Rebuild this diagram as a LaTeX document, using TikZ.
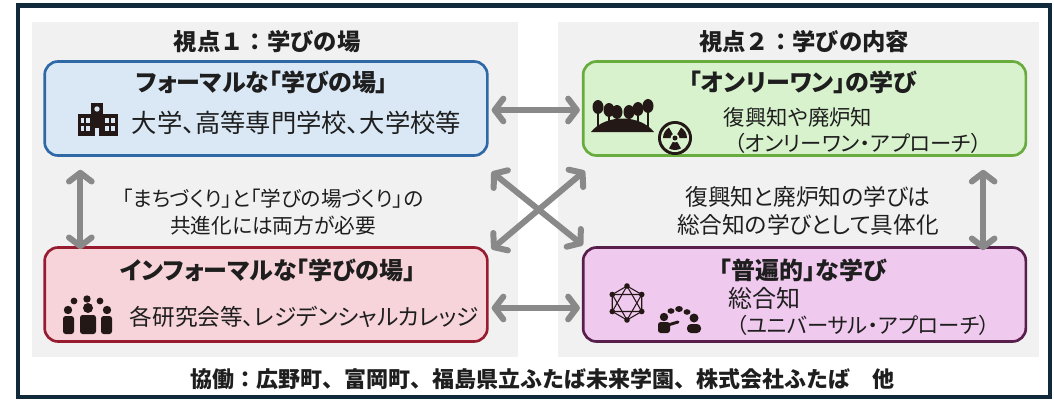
\documentclass[tikz,border=0pt]{standalone}
\usepackage{fontspec}
\setmainfont[RawFeature=+palt]{Noto Sans CJK JP}
\usepackage{tikz}
\usetikzlibrary{arrows.meta,positioning}

\definecolor{framecol}{RGB}{16,42,60}
\definecolor{panelcol}{RGB}{241,241,241}
\definecolor{textcol}{RGB}{30,30,30}
\definecolor{iconcol}{RGB}{35,24,21}
\definecolor{arrowcol}{RGB}{137,137,137}
\definecolor{formalfill}{RGB}{218,232,246}
\definecolor{formaldraw}{RGB}{46,104,166}
\definecolor{onlyfill}{RGB}{217,242,206}
\definecolor{onlydraw}{RGB}{104,172,62}
\definecolor{infofill}{RGB}{246,212,218}
\definecolor{infodraw}{RGB}{152,28,48}
\definecolor{univfill}{RGB}{240,201,238}
\definecolor{univdraw}{RGB}{88,30,76}

\begin{document}
\begin{tikzpicture}[x=0.75pt,y=-0.75pt]
\tikzstyle{box}=[rectangle,rounded corners=10pt,line width=2pt,minimum width=332pt,minimum height=70.5pt]
\tikzstyle{view}=[text=textcol,font=\bfseries\fontsize{17.5}{20}\selectfont\addfontfeature{RawFeature=-palt}]
\tikzstyle{boxtitle}=[text=textcol,font=\bfseries\fontsize{18}{21}\selectfont]
\tikzstyle{body}=[text=textcol,font=\fontsize{16}{19}\selectfont]
\tikzstyle{note}=[text=textcol,align=center,font=\fontsize{15.5}{20}\selectfont]

\tikzstyle{dbl}=[draw=arrowcol,line width=4.5pt,{Straight Barb[length=6.5pt,width=17pt,round]}-{Straight Barb[length=6.5pt,width=17pt,round]}]

\useasboundingbox (0,0) rectangle (1054,400);
\draw[framecol,line width=3.5pt] (18,5.5) rectangle (1050,397);
\fill[panelcol] (32,22) rectangle (518,357);
\fill[panelcol] (558,22) rectangle (1039,357);

\node[view] (view1) at (267,42) {視点１：学びの場};
\node[view] (view2) at (804,42) {視点２：学びの内容};

% the four boxes
\node[box,fill=formalfill,draw=formaldraw] (formal) at (266,108.5) {};
\node[box,fill=onlyfill,draw=onlydraw] (onlyone) at (804.5,108.5) {};
\node[box,fill=infofill,draw=infodraw] (informal) at (266,294.5) {};
\node[box,fill=univfill,draw=univdraw] (universal) at (804.5,294.5) {};

\node[boxtitle] (formaltitle) at (262,82) {フォーマルな「学びの場」};
\node[body,font=\fontsize{19}{22}\selectfont,anchor=west] (formaltext) at (127,123) {大学、高等専門学校、大学校等};
\node[boxtitle] (onlytitle) at (803,82) {「オンリーワン」の学び};
\node[body] (onlytext) at (798,117) {復興知や廃炉知};
\node[body] (onlysub) at (858,143) {（オンリーワン・アプローチ）};
\node[boxtitle] (infotitle) at (268,270) {インフォーマルな「学びの場」};
\node[body,font=\fontsize{17}{20}\selectfont,anchor=west] (infotext) at (125,317) {各研究会等、レジデンシャルカレッジ};
\node[boxtitle] (univtitle) at (803,270) {「普遍的」な学び};
\node[body,font=\fontsize{18}{21}\selectfont,anchor=west] (univtext) at (724,298) {総合知};
\node[body] (univsub) at (863,325) {（ユニバーサル・アプローチ）};

\node[note] (leftnote) at (273,212) {「まちづくり」と「学びの場づくり」の\\共進化には両方が必要};
\node[note,font=\fontsize{17}{21}\selectfont] (rightnote) at (808,211) {復興知と廃炉知の学びは\\総合知の学びとして具体化};

\node[text=textcol,font=\bfseries\fontsize{16.5}{19}\selectfont\addfontfeature{RawFeature=-palt}] (partners) at (542,379) {協働：広野町、富岡町、福島県立ふたば未来学園、株式会社ふたば　他};

% arrows
\draw[dbl] ([shift={(3,1.5)}]formal.east) -- ([shift={(-2,1.5)}]onlyone.west);
\draw[dbl] ([shift={(3,13.5)}]informal.east) -- ([shift={(-2,13.5)}]universal.west);
\draw[dbl] ([shift={(3,15)}]formal.south east) -- ([shift={(1,-1)}]universal.north west);
\draw[dbl] ([shift={(3,14)}]onlyone.south west) -- ([shift={(3,3)}]informal.north east);
\draw[dbl] ([shift={(37,13)}]formal.south west) -- ([shift={(37,3)}]informal.north west);
\draw[dbl] ([shift={(-44,13)}]onlyone.south east) -- ([shift={(-44,4)}]universal.north east);

% school
\fill[iconcol] (78,114) rectangle (92,136);
\fill[iconcol] (91,103) rectangle (103,136);
\fill[iconcol] (102,114) rectangle (118,136);
\foreach \x in {80.5,86} \foreach \y in {118,126} \fill[formalfill] (\x,\y) rectangle ++(3.5,4.5);
\foreach \x in {105,111} \foreach \y in {118,126} \fill[formalfill] (\x,\y) rectangle ++(3.5,4.5);
\fill[formalfill] (97,109) circle (2.7);
\fill[formalfill] (95,128) rectangle (99,136);

% people
\foreach \x in {74,100} \fill[iconcol] (\x,301) circle (3.4);
\fill[iconcol] (87,299) circle (3.7);
\fill[iconcol] (68,310) circle (4.2);
\fill[iconcol] (88,308) circle (5);
\fill[iconcol] (107,310) circle (4.2);
\fill[iconcol,rounded corners=2pt] (63,316) rectangle (74,334);
\fill[iconcol,rounded corners=2pt] (80,315) rectangle (96,334);
\fill[iconcol,rounded corners=2pt] (101,316) rectangle (112,334);

% trees on a mound
\fill[iconcol] (591,132) .. controls (605,114) and (640,114) .. (654,132) -- cycle;
\foreach \x/\h in {598/107,609/110,617/112,629/112,638/109,648/106}
  {\draw[iconcol,line width=1.5pt] (\x,\h) -- (\x,127);
   \fill[iconcol] (\x,\h) ellipse (5.5 and 7);}

% radiation
\begin{scope}[shift={(675,138)}]
\fill[iconcol] (0,0) circle (17);
\fill[onlyfill] (0,0) circle (14);
\fill[iconcol] (0,0) circle (2.5);
\foreach \a in {90,210,330}
  \fill[iconcol] (\a-30:4.5) arc[start angle=\a-30,end angle=\a+30,radius=4.5]
    -- (\a+30:12) arc[start angle=\a+30,end angle=\a-30,radius=12] -- cycle;
\end{scope}

% network
\begin{scope}[shift={(627,303)}]
\draw[iconcol,line width=0.8pt] (30:17) -- (90:17) -- (150:17) -- (210:17) -- (270:17) -- (330:17) -- cycle;
\draw[iconcol,line width=0.8pt] (90:17) -- (210:17) -- (330:17) -- cycle;
\draw[iconcol,line width=0.8pt] (270:17) -- (30:17) -- (150:17) -- cycle;
\foreach \a in {30,90,...,330} \fill[iconcol] (\a:17) circle (2.8);
\end{scope}

% presenter
\fill[iconcol] (664,317) circle (4.2);
\fill[iconcol,rounded corners=2pt] (658,322) rectangle (670,333);
\draw[iconcol,line width=2.2pt,line cap=round] (668,325) -- (678,322);
\fill[iconcol] (694,318) circle (4.5);
\fill[iconcol,rounded corners=3pt] (687,324) rectangle (701,333);
\fill[iconcol] (671,311) ellipse (3.5 and 2.8);
\fill[iconcol] (679,309) ellipse (3.8 and 3);
\fill[iconcol] (687,312) ellipse (3.5 and 2.8);
\end{tikzpicture}
\end{document}
